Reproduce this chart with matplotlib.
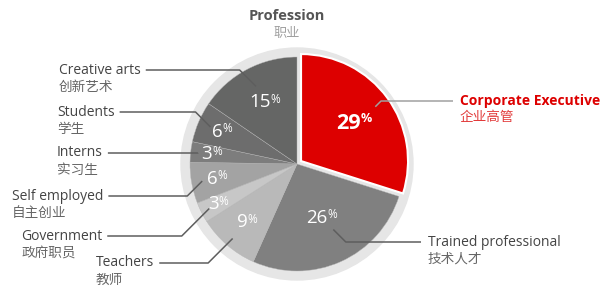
import matplotlib.pyplot as plt
import numpy as np
from matplotlib.patches import Circle

# data, clockwise from the top
categories = ["Corporate Executive", "Trained professional", "Teachers", "Government",
              "Self employed", "Interns", "Students", "Creative arts"]
categories_zh = ["企业高管", "技术人才", "教师", "政府职员", "自主创业", "实习生", "学生", "创新艺术"]
shares = [29, 26, 9, 3, 6, 3, 6, 15]

colors = ["#dd0000", "#808080", "#b9b9b9", "#c7c7c7", "#a3a3a3", "#7d7d7d", "#6d6d6d", "#656665"]

# layout (pixels, y from top)
W, H = 613, 287
cx, cy = 297, H - 164
R = 107
label_x = [460, 428, 96, 21, 12, 57, 57, 59]
label_y = [101, 242, 263, 236, 196, 153, 112, 70]
lead_r = [0.86, 0.70, 0.92, 0.92, 0.90, 0.93, 0.88, 0.82]
pct_r = [0.60, 0.55, 0.72, 0.83, 0.77, 0.81, 0.77, 0.65]

plt.rcParams["font.family"] = ["Open Sans", "Noto Sans CJK SC", "DejaVu Sans"]

fig = plt.figure(figsize=(W / 100, H / 100), dpi=100)
ax = fig.add_axes([0, 0, 1, 1])

ax.add_patch(Circle((cx, cy), 116, color="#e6e6e6", zorder=0))
wedges, _ = ax.pie(shares, colors=colors, startangle=90, counterclock=False,
                   radius=R, center=(cx, cy), explode=[5, 0, 0, 0, 0, 0, 0, 0],
                   frame=True, wedgeprops=dict(edgecolor="#b5b5b5", linewidth=0.3))
wedges[0].set_edgecolor("white")
wedges[0].set_linewidth(1.5)

ax.set_xlim(0, W)
ax.set_ylim(0, H)
ax.set_aspect("equal")
ax.axis("off")

# percentages inside
for i, w in enumerate(wedges):
    th = np.deg2rad((w.theta1 + w.theta2) / 2)
    x = w.center[0] + pct_r[i] * R * np.cos(th) - 4
    y = w.center[1] + pct_r[i] * R * np.sin(th)
    big = i == 0
    t = ax.text(x, y, str(shares[i]), color="white", ha="center", va="center",
                fontsize=15.5 if big else 13.5, fontweight="bold" if big else "normal")
    ax.annotate("%", xy=(0.97, 1.02), xycoords=t, ha="left", va="top", color="white",
                fontsize=9 if big else 8.5, fontweight="bold" if big else "normal")

# title
ax.text(287, H - 16, "Profession", ha="center", va="center", fontsize=10.5,
        fontweight="bold", color="#555555")
ax.text(287, H - 33, "职业", ha="center", va="center", fontsize=9.5, color="#a0a0a0")

# outside labels
texts = []
for i, name in enumerate(categories):
    ly = H - label_y[i]
    main_c = "#dd0000" if i == 0 else "#444444"
    sub_c = "#e23a3a" if i == 0 else "#666666"
    t = ax.text(label_x[i], ly, name, ha="left", va="center", fontsize=10,
                color=main_c, fontweight="bold" if i == 0 else "normal")
    ax.text(label_x[i], ly - 17, categories_zh[i], ha="left", va="center",
            fontsize=9.8, color=sub_c)
    texts.append(t)

fig.canvas.draw()
for i, w in enumerate(wedges):
    th = np.deg2rad((w.theta1 + w.theta2) / 2)
    if i == 1:
        th = np.deg2rad(-61)
    px = w.center[0] + lead_r[i] * R * np.cos(th)
    py = w.center[1] + lead_r[i] * R * np.sin(th)
    ly = H - label_y[i]
    bb = texts[i].get_window_extent()
    dy = abs(py - ly)
    if np.cos(th) < 0:
        ex = px - dy
        end = bb.x1 + 5
    else:
        ex = px + dy
        end = bb.x0 - 7
    lc = "#a0a0a0" if i == 0 else "#5e5e5e"
    ax.plot([px, ex, end], [py, ly, ly], color=lc, lw=1.1, solid_capstyle="butt")

fig.savefig("out.png", dpi=100)
